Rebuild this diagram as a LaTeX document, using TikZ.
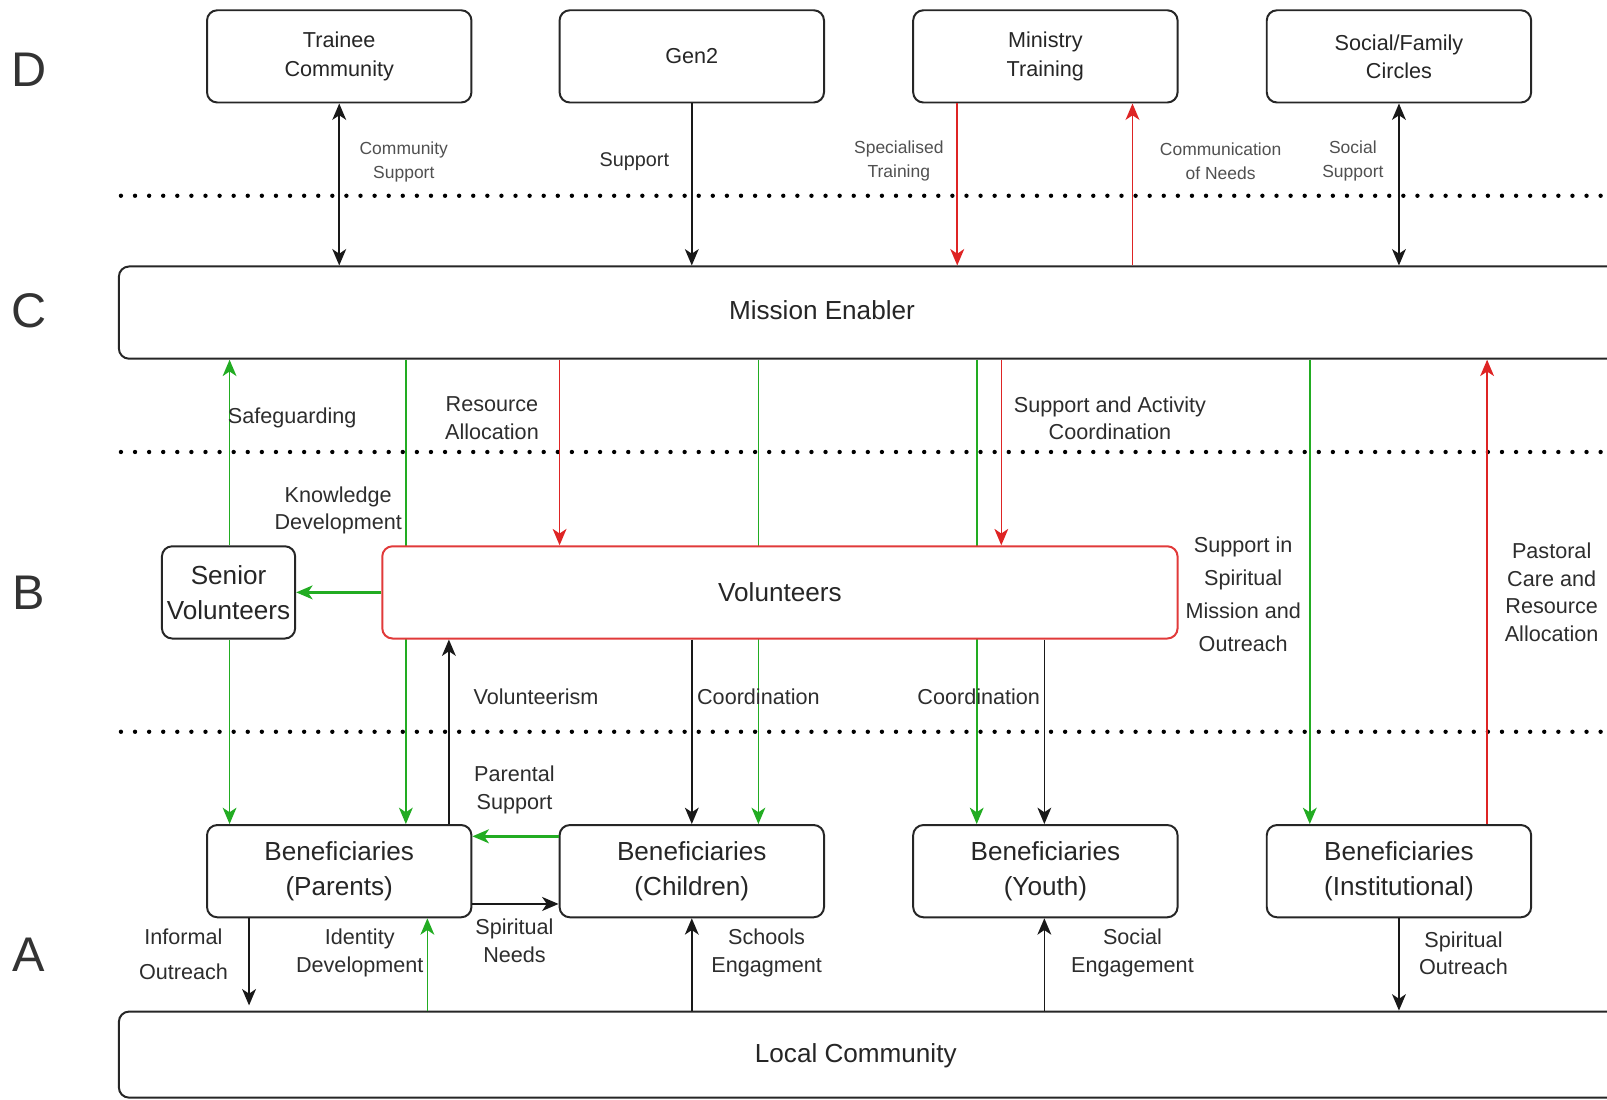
\documentclass[tikz,border=0pt]{standalone}
\usepackage{fontspec}
\setmainfont{Liberation Sans}
\usetikzlibrary{arrows.meta,backgrounds}

\definecolor{grn}{RGB}{34,172,34}
\definecolor{rd}{RGB}{222,36,36}
\definecolor{lbl}{RGB}{45,45,45}
\definecolor{lbllight}{RGB}{80,80,80}

\tikzset{
    >={Stealth[length=3.2mm,width=2.7mm,inset=0.9mm]},
    box/.style={draw=black!85, line width=1.1pt, rounded corners=2mm, fill=white, minimum width=51.6mm, minimum height=18mm, align=center, inner sep=0pt, text=black!85, font={\fontsize{14.5}{19.3}\selectfont}},
    topbox/.style={box, font={\fontsize{12}{15.6}\selectfont}},
    widebox/.style={box, minimum width=304.8mm},
    boxtext/.style={inner sep=0pt, text=black!85, font={\fontsize{14.5}{19.3}\selectfont}},
    lab/.style={align=center, inner sep=0pt, text=lbl, font={\fontsize{12}{15.4}\selectfont}},
    smalllab/.style={align=center, inner sep=0pt, text=lbllight, font={\fontsize{9.7}{13.5}\selectfont}},
    layername/.style={inner sep=0pt, text=black!80, font={\fontsize{27}{30}\selectfont}},
    dotrow/.style={line width=0.85mm, line cap=round, dash pattern=on 0pt off 2.75mm},
    blk/.style={line width=0.9pt, black!90, ->},
    gr/.style={line width=0.9pt, grn, ->},
    rdd/.style={line width=0.9pt, rd, ->},
    heavy/.style={line width=1.4pt},
}

\begin{document}
\begin{tikzpicture}[x=0.2mm, y=-0.2mm]
    % fix the frame
    \useasboundingbox (0,0) rectangle (1568,1073);
    \clip (0,0) rectangle (1568,1073);

    % draw layer letters
    \node[layername] (layerD) at (28,68) {D};
    \node[layername] (layerC) at (28,303) {C};
    \node[layername] (layerB) at (28,578) {B};
    \node[layername] (layerA) at (28,932) {A};

    % draw dotted separators
    \draw[dotrow] (118,191) -- (1568,191);
    \draw[dotrow] (118,441) -- (1568,441);
    \draw[dotrow] (118,714) -- (1568,714);

    % draw top boxes
    \node[topbox] (trainee) at (331,55) {Trainee\\Community};
    \node[topbox] (gentwo) at (675,55) {Gen2};
    \node[topbox] (ministry) at (1020,55) {Ministry\\Training};
    \node[topbox] (circles) at (1365,55) {Social/Family\\Circles};

    % draw mission enabler
    \node[widebox] (enabler) at (878,305) {};
    \node[boxtext] (enablertext) at (802,303) {Mission Enabler};

    % draw volunteers
    \node[box, minimum width=26mm] (senior) at (223,578) {Senior\\Volunteers};
    \node[box, draw=rd!90, minimum width=155.2mm] (volunteers) at (761,578) {Volunteers};

    % draw beneficiaries
    \node[box] (parents) at (331,850) {Beneficiaries\\(Parents)};
    \node[box] (children) at (675,850) {Beneficiaries\\(Children)};
    \node[box] (youth) at (1020,850) {Beneficiaries\\(Youth)};
    \node[box] (institutional) at (1365,850) {Beneficiaries\\(Institutional)};

    % draw local community
    \node[widebox, minimum height=16.8mm] (local) at (878,1029) {};
    \node[boxtext] (localtext) at (835,1030) {Local Community};

    % draw links between D and C
    \draw[blk, <->] (trainee.south) -- (trainee.south |- enabler.north);
    \draw[blk] (gentwo.south) -- (gentwo.south |- enabler.north);
    \draw[rdd] (934,0 |- ministry.south) -- (934,0 |- enabler.north);
    \draw[rdd] (1105,0 |- enabler.north) -- (1105,0 |- ministry.south);
    \draw[blk, <->] (circles.south) -- (circles.south |- enabler.north);

    % draw green links running behind the volunteers box
    \begin{scope}[on background layer]
        \draw[gr] (396,0 |- enabler.south) -- (396,0 |- parents.north);
        \draw[gr] (740,0 |- enabler.south) -- (740,0 |- children.north);
        \draw[gr] (953,0 |- enabler.south) -- (953,0 |- youth.north);
    \end{scope}

    % draw links between C and B
    \draw[gr] (224,0 |- senior.north) -- (224,0 |- enabler.south);
    \draw[rdd] (546,0 |- enabler.south) -- (546,0 |- volunteers.north);
    \draw[rdd] (977,0 |- enabler.south) -- (977,0 |- volunteers.north);
    \draw[gr] (1278,0 |- enabler.south) -- (1278,0 |- institutional.north);
    \draw[rdd] (1451,0 |- institutional.north) -- (1451,0 |- enabler.south);

    % draw links between B and A
    \draw[gr, heavy] (volunteers.west) -- (senior.east);
    \draw[gr] (224,0 |- senior.south) -- (224,0 |- parents.north);
    \draw[blk] (438,0 |- parents.north) -- (438,0 |- volunteers.south);
    \draw[blk] (volunteers.south -| children.north) -- (children.north);
    \draw[blk] (1019,0 |- volunteers.south) -- (1019,0 |- youth.north);

    % draw links inside A
    \draw[gr, heavy] (children.west |- 0,816) -- (parents.east |- 0,816);
    \draw[blk, heavy] (parents.east |- 0,882) -- (children.west |- 0,882);
    \draw[blk] (243,0 |- parents.south) -- ([yshift=1mm]243,0 |- local.north);
    \draw[gr] (417,0 |- local.north) -- (417,0 |- parents.south);
    \draw[blk] (local.north -| children.south) -- (children.south);
    \draw[blk] (1019,0 |- local.north) -- (1019,0 |- youth.south);
    \draw[blk] (institutional.south) -- (institutional.south |- local.north);

    % draw labels
    \node[smalllab] (lcommunity) at (394,158) {Community\\Support};
    \node[lab, font={\fontsize{11}{14}\selectfont}] (lsupport) at (619,158) {Support};
    \node[smalllab] (lspecial) at (877,157) {Specialised\\Training};
    \node[smalllab] (lneeds) at (1191,157) {Communication\\of Needs};
    \node[smalllab] (lsocial) at (1320,157) {Social\\Support};
    \node[lab, anchor=west] (lsafe) at (222,408) {Safeguarding};
    \node[lab] (lresource) at (480,408) {Resource\\Allocation};
    \node[lab] (lknow) at (330,498) {Knowledge\\Development};
    \node[lab] (lactivity) at (1083,408) {Support and Activity\\Coordination};
    \node[lab, font={\fontsize{12}{18.3}\selectfont}] (lmission) at (1213,580) {Support in\\Spiritual\\Mission and\\Outreach};
    \node[lab] (lpastoral) at (1514,578) {Pastoral\\Care and\\Resource\\Allocation};
    \node[lab] (lvolunteer) at (523,680) {Volunteerism};
    \node[lab] (lcoordone) at (740,680) {Coordination};
    \node[lab] (lcoordtwo) at (955,680) {Coordination};
    \node[lab] (lparental) at (502,771) {Parental\\Support};
    \node[lab] (lspiritual) at (502,918) {Spiritual\\Needs};
    \node[lab, font={\fontsize{12}{19.3}\selectfont}] (linformal) at (179,931) {Informal\\Outreach};
    \node[lab] (lidentity) at (351,930) {Identity\\Development};
    \node[lab] (lschools) at (748,930) {Schools\\Engagment};
    \node[lab] (lengage) at (1105,930) {Social\\Engagement};
    \node[lab] (loutreach) at (1428,930) {Spiritual\\Outreach};
\end{tikzpicture}
\end{document}
